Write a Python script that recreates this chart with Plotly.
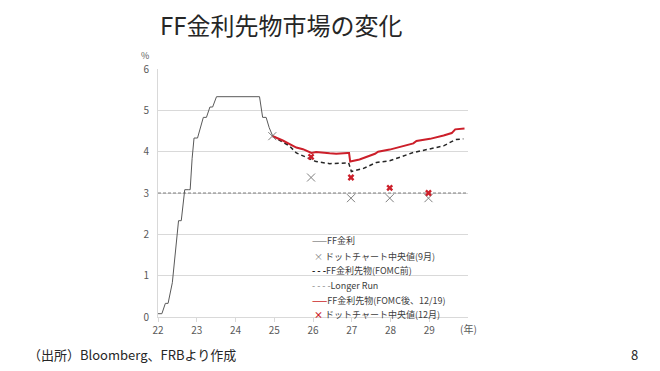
import plotly.graph_objects as go

# ---- data ----
ff_x = [22.00, 22.10, 22.19, 22.26, 22.37, 22.45, 22.53, 22.60, 22.69, 22.78, 22.83, 22.88,
        22.93, 23.02, 23.10, 23.17, 23.25, 23.34, 23.41, 23.51, 24.62, 24.70, 24.79, 24.87, 24.96]
ff_y = [0.08, 0.08, 0.33, 0.33, 0.83, 1.58, 2.33, 2.33, 3.08, 3.08, 3.08, 3.83,
        4.33, 4.33, 4.58, 4.83, 4.83, 5.08, 5.08, 5.33, 5.33, 4.83, 4.83, 4.58, 4.38]

pre_x = [24.95, 25.15, 25.39, 25.57, 25.74, 25.96, 26.08, 26.43, 26.86, 26.92, 26.99, 27.29,
         27.64, 27.98, 28.59, 29.02, 29.37, 29.67, 29.88]
pre_y = [4.38, 4.28, 4.14, 3.97, 3.90, 3.80, 3.76, 3.71, 3.73, 3.73, 3.52, 3.59,
         3.74, 3.78, 3.98, 4.06, 4.14, 4.29, 4.31]

post_x = [24.95, 25.22, 25.57, 25.74, 25.96, 26.08, 26.43, 26.60, 26.89, 26.93, 26.96, 27.20,
          27.60, 27.68, 27.98, 28.33, 28.59, 28.67, 29.02, 29.37, 29.58, 29.67, 29.91]
post_y = [4.38, 4.27, 4.10, 4.06, 3.97, 3.99, 3.96, 3.95, 3.97, 3.97, 3.76, 3.81,
          3.95, 4.00, 4.05, 4.13, 4.20, 4.26, 4.31, 4.39, 4.45, 4.54, 4.56]

longrun_x = [22, 30]
longrun_y = [3.0, 3.0]

dot_sep_x = [24.95, 25.95, 26.98, 27.98, 28.98]
dot_sep_y = [4.375, 3.375, 2.875, 2.875, 2.875]

dot_dec_x = [25.95, 26.98, 27.98, 28.98]
dot_dec_y = [3.875, 3.375, 3.125, 3.0]

x_ticks = [22, 23, 24, 25, 26, 27, 28, 29]
x_ticklabels = ["22", "23", "24", "25", "26", "27", "28", "29"]

legend_labels = ["FF金利", "ドットチャート中央値(9月)", "FF金利先物(FOMC前)", "Longer Run",
                 "FF金利先物(FOMC後、12/19)", "ドットチャート中央値(12月)"]

FONT = "Noto Sans CJK JP"
RED = "#CC1F2A"

fig = go.Figure()
fig.add_trace(go.Scatter(x=longrun_x, y=longrun_y, mode="lines",
                         line=dict(color="#7f7f7f", width=1, dash="3px,2px"), showlegend=False))
fig.add_trace(go.Scatter(x=ff_x, y=ff_y, mode="lines",
                         line=dict(color="#595959", width=1), showlegend=False))
fig.add_trace(go.Scatter(x=pre_x, y=pre_y, mode="lines",
                         line=dict(color="#262626", width=1.5, dash="4px,3px"), showlegend=False))
fig.add_trace(go.Scatter(x=post_x, y=post_y, mode="lines",
                         line=dict(color=RED, width=2), showlegend=False))
fig.add_trace(go.Scatter(x=dot_sep_x, y=dot_sep_y, mode="markers",
                         marker=dict(symbol="x-thin", size=8, line=dict(color="#7f7f7f", width=1)),
                         showlegend=False))
fig.add_trace(go.Scatter(x=dot_dec_x, y=dot_dec_y, mode="markers",
                         marker=dict(symbol="x", size=6, color=RED, line=dict(width=0)),
                         showlegend=False))

# plot area geometry
L, R, T, B = 158, 468, 69, 317
W, H = 660, 371

def px(xp):
    return (xp - L) / (R - L)

def py(yp):
    return (B - yp) / (B - T)

annotations = []
# manual legend
legend_rows = [
    (240.7, '<span style="color:#595959">——</span>', legend_labels[0]),
    (256.0, '<span style="color:#7f7f7f"> × </span>', legend_labels[1]),
    (270.7, '<span style="color:#262626"><b>- - -</b></span>', legend_labels[2]),
    (285.0, '<span style="color:#7f7f7f">- - - -</span>', legend_labels[3]),
    (300.0, '<span style="color:#CC1F2A"><b>——</b></span>', legend_labels[4]),
    (314.5, '<span style="color:#CC1F2A"><b> × </b></span>', legend_labels[5]),
]
for yp, sym, lab in legend_rows:
    annotations.append(dict(xref="paper", yref="paper", x=px(310), y=py(yp), xanchor="left",
                            yanchor="middle", showarrow=False, text=sym + lab,
                            font=dict(family=FONT, size=9, color="#404040")))

annotations.append(dict(xref="x", yref="paper", x=30, y=0, yshift=-11, xanchor="center",
                        yanchor="middle", showarrow=False, text="(年)",
                        font=dict(family=FONT, size=10, color="#595959")))
annotations.append(dict(xref="paper", yref="paper", x=px(145), y=py(56), xanchor="center",
                        yanchor="middle", showarrow=False, text="%",
                        font=dict(family=FONT, size=9, color="#595959")))
annotations.append(dict(xref="paper", yref="paper", x=px(281), y=py(25), xanchor="center",
                        yanchor="middle", showarrow=False, text="FF金利先物市場の変化",
                        font=dict(family=FONT, size=24, color="#262626")))
annotations.append(dict(xref="paper", yref="paper", x=px(26), y=py(354), xanchor="left",
                        yanchor="middle", showarrow=False, text="（出所）Bloomberg、FRBより作成",
                        font=dict(family=FONT, size=13, color="#262626")))
annotations.append(dict(xref="paper", yref="paper", x=px(634), y=py(354), xanchor="center",
                        yanchor="middle", showarrow=False, text="8",
                        font=dict(family=FONT, size=13, color="#262626")))

fig.update_layout(
    width=W, height=H,
    margin=dict(l=L, r=W - R, t=T, b=H - B, pad=0),
    paper_bgcolor="white", plot_bgcolor="white",
    showlegend=False,
    font=dict(family=FONT, size=10, color="#595959"),
    annotations=annotations,
    xaxis=dict(range=[22, 30], tickvals=x_ticks, ticktext=x_ticklabels,
               showgrid=False, zeroline=False, showline=True, linecolor="#d9d9d9", linewidth=1,
               ticks="outside", ticklen=4, tickcolor="#d9d9d9",
               tickfont=dict(family=FONT, size=10, color="#595959")),
    yaxis=dict(range=[0, 6], dtick=1, showgrid=True, gridcolor="#d9d9d9", gridwidth=1,
               zeroline=False, showline=True, linecolor="#d9d9d9", linewidth=1,
               ticks="", ticklabelstandoff=6,
               tickfont=dict(family=FONT, size=10, color="#595959")),
)

fig.write_html("out.html", config={"displayModeBar": False},
               post_script="document.body.style.margin='0';")
